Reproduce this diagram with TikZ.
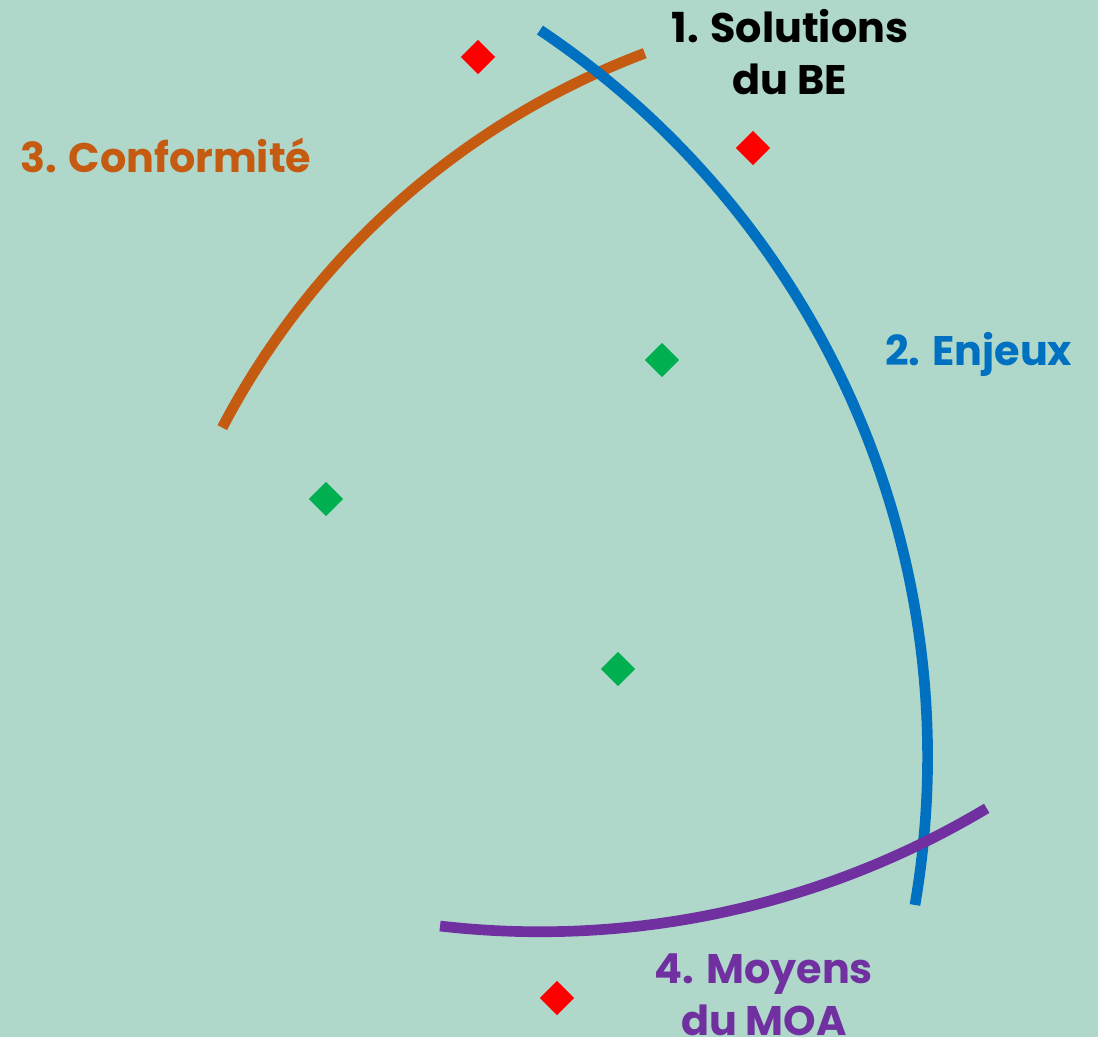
\documentclass[tikz,border=0pt]{standalone}
\usepackage{fontspec}
\setmainfont{Poppins}
\usetikzlibrary{shapes.geometric}
\definecolor{bgc}{HTML}{AFD8CB}
\definecolor{orangec}{HTML}{C55A11}
\definecolor{bluec}{HTML}{0070C0}
\definecolor{purplec}{HTML}{7030A0}
\definecolor{redc}{HTML}{FF0000}
\definecolor{greenc}{HTML}{00B050}
\tikzset{
  arcline/.style={line width=8pt, line cap=butt},
  mark diamond/.style={shape=diamond, fill=#1, draw=none, inner sep=0pt, minimum width=26pt, minimum height=26pt},
  lbl/.style={font=\fontsize{31}{39}\selectfont\bfseries, inner sep=0pt, align=center}
}
\begin{document}
\begin{tikzpicture}[x=0.75pt,y=-0.75pt]
\fill[bgc] (0,0) rectangle (1098,1037);
\useasboundingbox (0,0) rectangle (1098,1037);
% arcs
\draw[arcline, orangec] (925,795) ++(-152.4:793) arc[start angle=-152.4, end angle=-110.7, radius=793];
\draw[arcline, bluec] (52.3,756.9) ++(-56.14:875.3) arc[start angle=-56.14, end angle=9.74, radius=875.3];
\draw[arcline, purplec] (540,62) ++(96.6:869.8) arc[start angle=96.6, end angle=59.1, radius=869.8];
% markers
\node[mark diamond=redc] (r1) at (478,57) {};
\node[mark diamond=redc] (r2) at (753,148) {};
\node[mark diamond=redc] (r3) at (557,998) {};
\node[mark diamond=greenc] (g1) at (662,360) {};
\node[mark diamond=greenc] (g2) at (326,499) {};
\node[mark diamond=greenc] (g3) at (618,669) {};
% labels
\node[lbl, anchor=base west, text=orangec] (conf) at (20,173) {3. Conformité};
\node[lbl, anchor=base west, text=bluec] (enj) at (885,365) {2. Enjeux};
\node[lbl, text=black] (sol) at (790,52) {1. Solutions\\du BE};
\node[lbl, text=purplec] (moa) at (764,995) {4. Moyens\\du MOA};
\end{tikzpicture}
\end{document}
